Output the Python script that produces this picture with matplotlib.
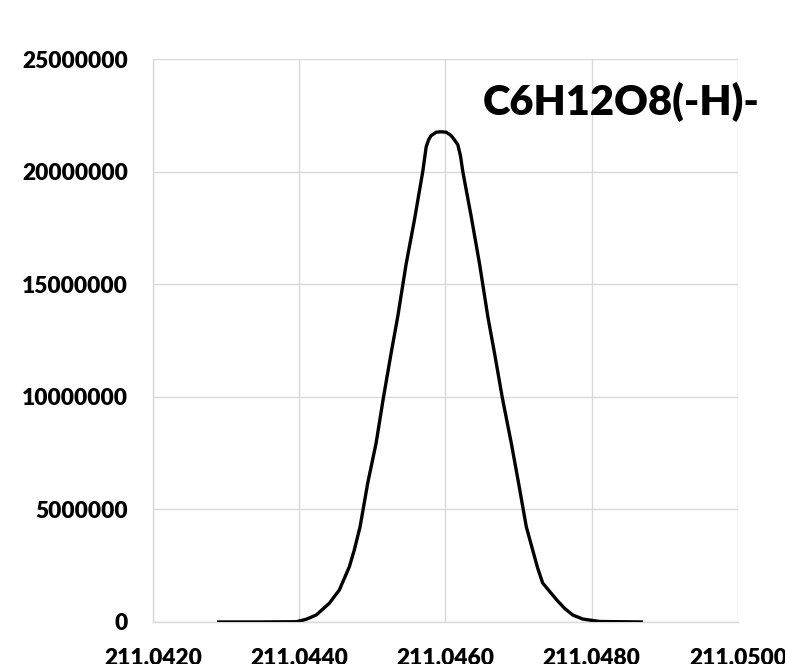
import matplotlib
matplotlib.use("Agg")
import matplotlib.pyplot as plt
from matplotlib.ticker import FormatStrFormatter, MultipleLocator

# m/z и интенсивность
mz = [211.042877, 211.043452, 211.043959, 211.044096, 211.044233, 211.044411,
      211.044548, 211.044685, 211.044753, 211.044832, 211.044936, 211.045051,
      211.045151, 211.045256, 211.045347, 211.045462, 211.045575, 211.045689,
      211.045736, 211.045770, 211.045804, 211.045873, 211.045941, 211.046010,
      211.046078, 211.046120, 211.046168, 211.046205, 211.046237, 211.046352,
      211.046466, 211.046579, 211.046671, 211.046777, 211.046900, 211.047000,
      211.047105, 211.047192, 211.047260, 211.047329, 211.047521, 211.047630,
      211.047740, 211.047877, 211.048110, 211.048699]
intensity = [0, 0, 10000, 120000, 310000, 830000,
             1420000, 2450000, 3200000, 4230000, 6160000, 7940000,
             9960000, 11930000, 13560000, 15900000, 17850000, 20000000,
             21100000, 21420000, 21600000, 21750000, 21770000, 21750000,
             21600000, 21420000, 21200000, 20700000, 20000000, 18000000,
             15900000, 13560000, 11930000, 9960000, 7940000, 6160000,
             4230000, 3200000, 2400000, 1730000, 980000, 600000,
             310000, 130000, 20000, 0]
title = "C6H12O8(-H)-"

fnt = "Lato"
fig = plt.figure(figsize=(7.85, 6.64), dpi=100)
ax = fig.add_axes([0.1949, 0.0633, 0.7452, 0.8478])

ax.plot(mz, intensity, color="black", lw=2.4, solid_capstyle="butt",
        solid_joinstyle="round", zorder=3)

ax.set_xlim(211.042, 211.050)
ax.set_ylim(0, 25000000)
ax.xaxis.set_major_locator(MultipleLocator(0.002))
ax.yaxis.set_major_locator(MultipleLocator(5000000))
ax.xaxis.set_major_formatter(FormatStrFormatter("%.4f"))
ax.yaxis.set_major_formatter(FormatStrFormatter("%d"))

ax.grid(True, color="#d9d9d9", lw=1.0)
ax.set_axisbelow(True)
for s in ["top", "right"]:
    ax.spines[s].set_visible(False)
for s in ["left", "bottom"]:
    ax.spines[s].set_color("#d9d9d9")
    ax.spines[s].set_linewidth(1.0)

ax.tick_params(length=0)
ax.tick_params(axis="y", pad=18)
ax.tick_params(axis="x", pad=19)
for lab in ax.get_xticklabels() + ax.get_yticklabels():
    lab.set_fontfamily(fnt)
    lab.set_fontweight("heavy")
    lab.set_fontsize(16.4)

ax.text(0.564, 0.924, title, transform=ax.transAxes, ha="left", va="center",
        fontsize=30, fontweight="heavy", fontfamily=fnt, clip_on=False, zorder=4)

fig.savefig("out.png", dpi=100)
